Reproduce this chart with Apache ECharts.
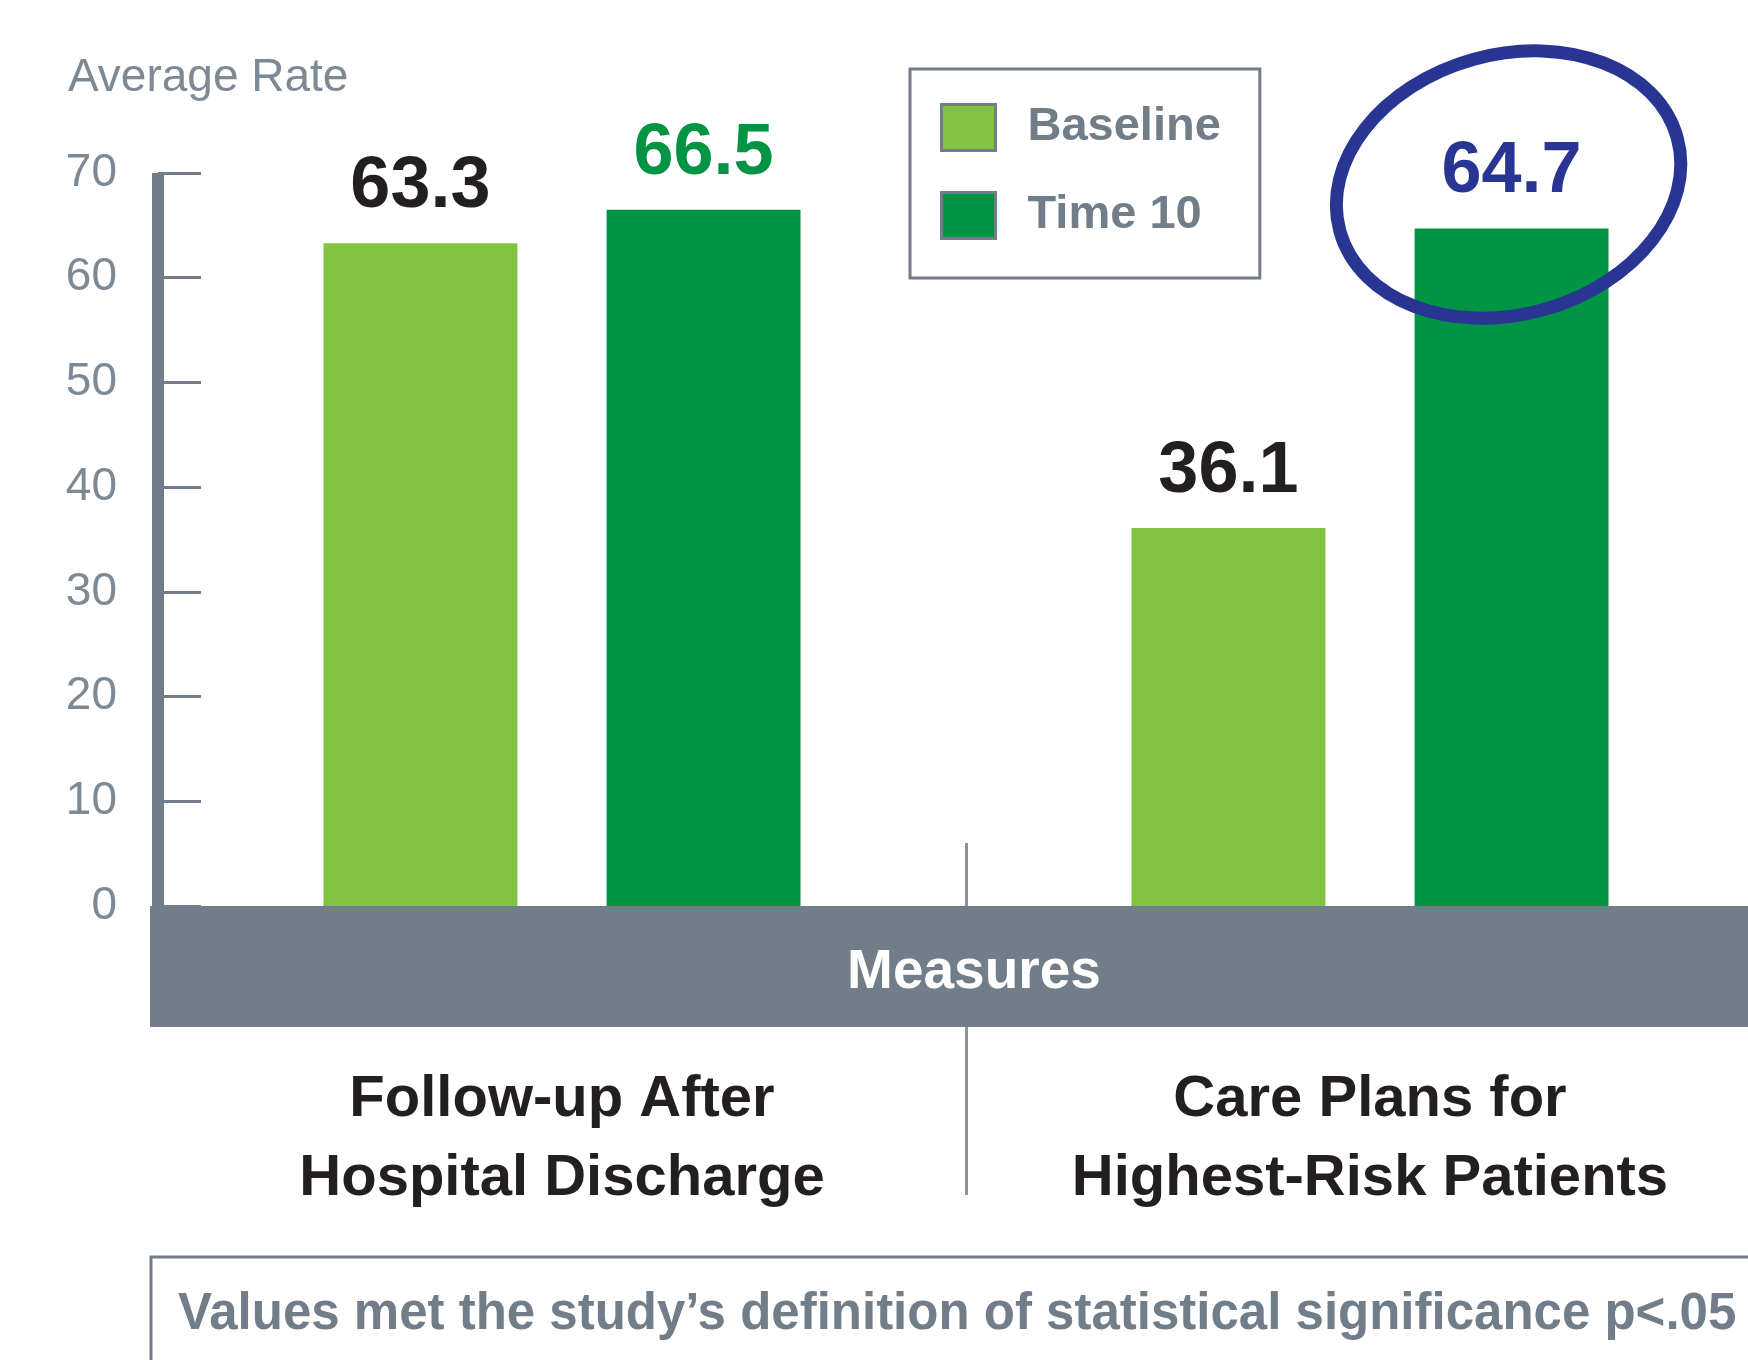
<!DOCTYPE html>
<html>
<head>
<meta charset="utf-8">
<script src="https://cdn.jsdelivr.net/npm/echarts@6/dist/echarts.min.js"></script>
<style>
  html, body { margin: 0; padding: 0; background: #fff; }
  #main { width: 1748px; height: 1360px; }
</style>
</head>
<body>
<div id="main"></div>
<script>
// data
var categories = ['Follow-up After\nHospital Discharge', 'Care Plans for\nHighest-Risk Patients'];
var seriesNames = ['Baseline', 'Time 10'];
var baseline = [63.3, 36.1];
var time10 = [66.5, 64.7];
var yTicks = [0, 10, 20, 30, 40, 50, 60, 70];
var time10LabelColors = ['#009444', '#283593'];

var FONT = '"Liberation Sans", Arial, sans-serif';
var GRAY = '#717d89';
var LIGHTGRAY = '#7d8995';
var BLACK = '#231f20';

var chart = echarts.init(document.getElementById('main'));

chart.setOption({
  animation: false,
  color: ['#82c341', '#009444'],
  title: {
    text: 'Average Rate',
    left: 68, top: 55, padding: 0,
    textStyle: { fontFamily: FONT, fontSize: 46, lineHeight: 46, fontWeight: 'normal', color: LIGHTGRAY }
  },
  legend: {
    data: seriesNames,
    orient: 'vertical',
    left: 910, top: 69,
    padding: [34, 39, 38, 30],
    borderColor: GRAY, borderWidth: 3,
    itemWidth: 54, itemHeight: 46,
    itemGap: 39,
    icon: 'rect',
    itemStyle: { borderColor: GRAY, borderWidth: 3 },
    textStyle: { fontFamily: FONT, fontSize: 47, lineHeight: 46, fontWeight: 'bold', color: GRAY, padding: [0, 0, 0, 27] }
  },
  grid: { left: 158, right: -26, top: 173, bottom: 454, containLabel: false, outerBoundsMode: 'none' },
  xAxis: {
    type: 'category',
    data: categories,
    axisLine: { show: false },
    axisTick: { show: false },
    axisLabel: {
      interval: 0,
      margin: 154,
      fontFamily: FONT, fontSize: 58, lineHeight: 79, fontWeight: 'bold', color: BLACK
    },
    name: 'Measures',
    nameLocation: 'middle',
    nameGap: 67,
    nameMoveOverlap: false,
    nameTextStyle: { fontFamily: FONT, fontSize: 55, fontWeight: 'bold', color: '#fff', verticalAlign: 'middle', padding: [0, 0, 0, 16] },
    z: 10
  },
  yAxis: {
    type: 'value',
    min: 0, max: 70, interval: 10,
    axisLine: { show: true, lineStyle: { color: GRAY, width: 12, cap: 'butt' } },
    axisTick: { show: true, inside: true, length: 43, lineStyle: { color: GRAY, width: 3, cap: 'butt' } },
    splitLine: { show: false },
    axisLabel: {
      margin: 41,
      fontFamily: FONT, fontSize: 46, color: LIGHTGRAY,
      formatter: function (v) { return yTicks.indexOf(v) >= 0 ? String(v) : ''; }
    }
  },
  series: [{
    name: seriesNames[0],
    type: 'bar',
    barWidth: '24%',
    barGap: '46%',
    data: baseline,
    label: {
      show: true, position: 'top', distance: 20,
      fontFamily: FONT, fontSize: 72, lineHeight: 72, fontWeight: 'bold', color: BLACK
    }
  }, {
    name: seriesNames[1],
    type: 'bar',
    barWidth: '24%',
    barGap: '46%',
    data: time10.map(function (v, i) {
      return { value: v, label: { color: time10LabelColors[i] } };
    }),
    label: {
      show: true, position: 'top', distance: 20,
      fontFamily: FONT, fontSize: 72, lineHeight: 72, fontWeight: 'bold'
    }
  }]
});

// decorations placed from the chart's own layout
var gridRect = chart.getModel().getComponent('grid').coordinateSystem.getRect();
var baseY = gridRect.y + gridRect.height;
var c0 = chart.convertToPixel({ xAxisIndex: 0 }, 0);
var c1 = chart.convertToPixel({ xAxisIndex: 0 }, 1);
var sepX = Math.round((c0 + c1) / 2) + 0.5;

var lay = chart.getModel().getSeriesByIndex(1).getData().getItemLayout(1);
var barTop = Math.min(lay.y, lay.y + lay.height);
var barCx = lay.x + lay.width / 2;

chart.setOption({
  graphic: [{
    // measures band
    type: 'rect', z: 5,
    shape: { x: gridRect.x - 8, y: baseY, width: 2000, height: 121 },
    style: { fill: GRAY }
  }, {
    type: 'line', z: 4,
    shape: { x1: sepX, y1: baseY - 63, x2: sepX, y2: baseY + 289 },
    style: { stroke: '#8a949e', lineWidth: 3 }
  }, {
    type: 'ellipse', z: 100,
    x: barCx - 3, y: barTop - 44,
    rotation: 0.27,
    shape: { cx: 0, cy: 0, rx: 175, ry: 130 },
    style: { fill: 'none', stroke: '#283593', lineWidth: 13 }
  }, {
    type: 'polyline', z: 100,
    shape: { points: [[151, 1362], [151, 1257], [1760, 1257]] },
    style: { fill: 'none', stroke: GRAY, lineWidth: 3 }
  }, {
    type: 'text', z: 100,
    x: 178, y: 1315,
    style: {
      text: 'Values met the study\u2019s definition of statistical significance p<.05',
      font: 'bold 51px ' + FONT,
      fill: GRAY,
      verticalAlign: 'middle'
    }
  }]
});
</script>
</body>
</html>
